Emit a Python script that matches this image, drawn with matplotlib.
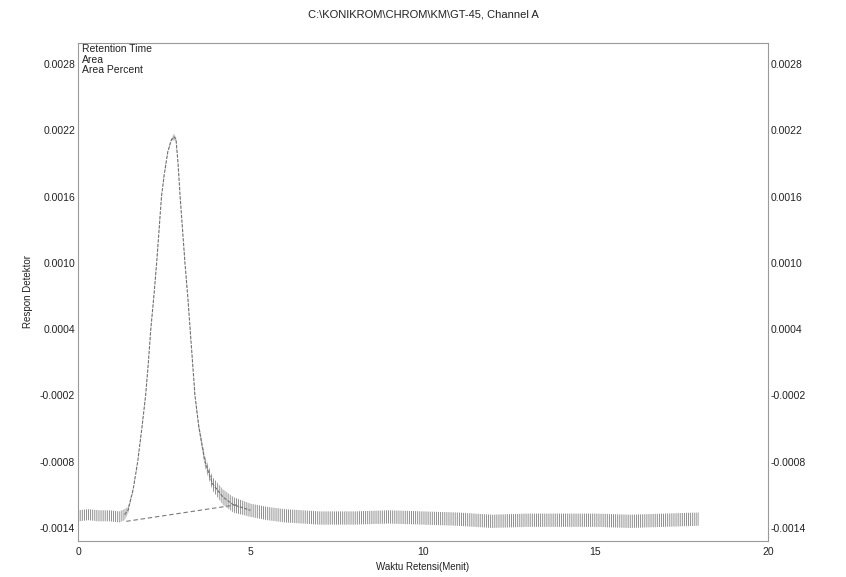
import matplotlib
matplotlib.use("Agg")
import matplotlib.pyplot as plt
from matplotlib.ticker import FixedLocator, FuncFormatter

plt.rcParams['font.family'] = ['Liberation Sans', 'DejaVu Sans']
plt.rcParams['hatch.linewidth'] = 0.6

# Chromatogram trace: retention time (min) and detector response (centre of trace)
time_min = [0.0, 0.3, 0.6, 0.9, 1.2, 1.35, 1.45, 1.6, 1.73, 1.85, 1.96, 2.04, 2.11,
            2.2, 2.28, 2.35, 2.42, 2.5, 2.6, 2.7, 2.78, 2.84, 2.9, 2.96, 3.03,
            3.1, 3.18, 3.25, 3.32, 3.39, 3.5, 3.68, 3.9, 4.2, 4.5, 5.0, 5.5,
            6.0, 7.0, 8.0, 9.0, 10.0, 11.0, 12.0, 13.0, 14.0, 15.0, 16.0, 17.0, 18.0]
response = [-0.00129, -0.00128, -0.00129, -0.00129, -0.00130, -0.00128, -0.00124,
            -0.00105, -0.00080, -0.00050, -0.00020, 0.00010, 0.00040,
            0.00070, 0.00100, 0.00130, 0.00160, 0.00180, 0.00200, 0.00211,
            0.00214, 0.00212, 0.00190, 0.00160, 0.00130,
            0.00100, 0.00070, 0.00040, 0.00010, -0.00020, -0.00048, -0.00080,
            -0.00100, -0.00112, -0.00119, -0.00124, -0.00127,
            -0.00129, -0.00131, -0.00131, -0.00130, -0.00131, -0.00132, -0.00134,
            -0.00133, -0.00133, -0.00133, -0.00134, -0.00133, -0.00132]
# Half-height of the noise band around the trace
noise_half = [0.00005, 0.00005, 0.00005, 0.00005, 0.00005, 0.00005, 0.00003,
              0.00001, 0.00001, 0.00001, 0.00001, 0.00001, 0.00001,
              0.00001, 0.00001, 0.00001, 0.00001, 0.00001, 0.00001, 0.00001,
              0.00003, 0.00002, 0.00001, 0.00001, 0.00001,
              0.00001, 0.00001, 0.00001, 0.00001, 0.00002, 0.00003, 0.00005,
              0.00006, 0.00007, 0.00007, 0.00006, 0.00006,
              0.00006, 0.00006, 0.00006, 0.00006, 0.00006, 0.00006, 0.00006,
              0.00006, 0.00006, 0.00006, 0.00006, 0.00006, 0.00006]

# Integration baseline drawn under the peak
baseline_t = [1.4, 4.6]
baseline_v = [-0.00134, -0.00119]

x_ticks = [0, 5, 10, 15, 20]
y_ticks = [0.0028, 0.0022, 0.0016, 0.0010, 0.0004, -0.0002, -0.0008, -0.0014]

fig = plt.figure(figsize=(8.46, 5.77), dpi=100)
ax = fig.add_axes([0.0922, 0.0624, 0.8156, 0.8631])

lo = [r - h for r, h in zip(response, noise_half)]
hi = [r + h for r, h in zip(response, noise_half)]
ax.fill_between(time_min, lo, hi, facecolor='none', edgecolor='#7c7c7c',
                hatch='||||||||', linewidth=0)
ax.plot(time_min[5:36], response[5:36], color='#707070', lw=0.8, dashes=(3, 1.2))
ax.plot(baseline_t, baseline_v, color='#7a7a7a', lw=0.8, dashes=(4, 2.5))

ax.set_xlim(0, 20)
ax.set_ylim(-0.001518, 0.00299)

ax.xaxis.set_major_locator(FixedLocator(x_ticks))
ax.yaxis.set_major_locator(FixedLocator(y_ticks))
ax.yaxis.set_major_formatter(FuncFormatter(lambda v, p: f"{v:.4f}"))
ax.tick_params(axis='both', length=0, labelsize=7.5, colors='#222222')
ax.tick_params(axis='y', pad=2, labelright=True, right=False)
ax.tick_params(axis='x', pad=4)

for s in ax.spines.values():
    s.set_color('#9a9a9a')
    s.set_linewidth(0.8)

ax.set_xlabel('Waktu Retensi(Menit)', fontsize=7, labelpad=4, color='#222222')
ax.set_ylabel('Respon Detektor', fontsize=7, labelpad=5, color='#222222')
ax.set_title('C:\\KONIKROM\\CHROM\\KM\\GT-45, Channel A', fontsize=8,
             pad=18, color='#222222')

ax.text(0.006, 0.997, 'Retention Time\nArea\nArea Percent', transform=ax.transAxes,
        ha='left', va='top', fontsize=7.5, linespacing=1.05, color='#222222')

fig.savefig('out.png', dpi=100, facecolor='white')
